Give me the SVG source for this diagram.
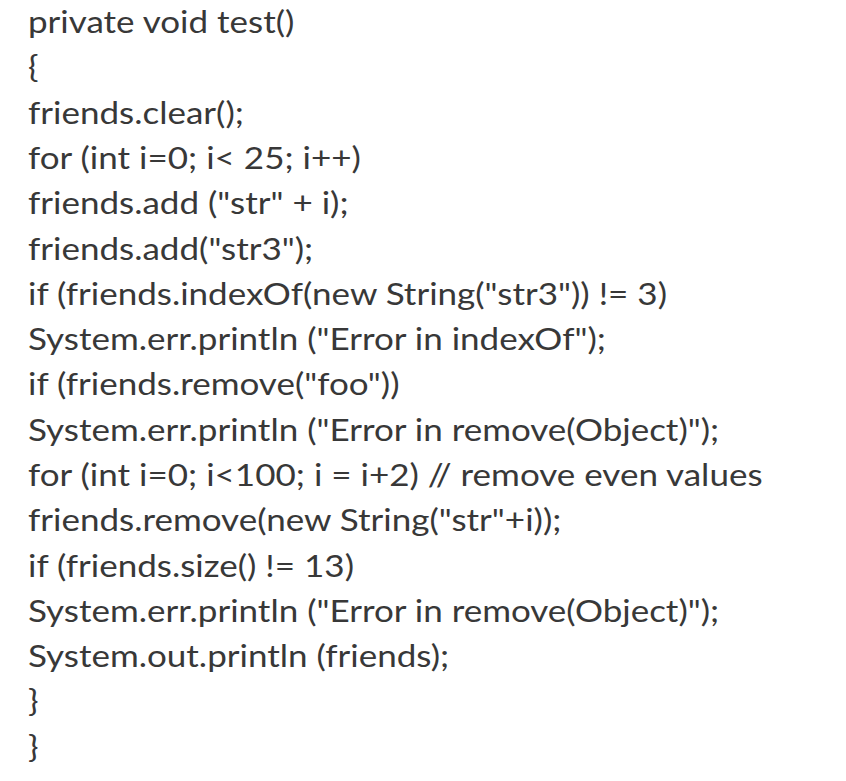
<svg xmlns="http://www.w3.org/2000/svg" width="846" height="781" viewBox="0 0 846 781">
<style>text{font-family:Lato,"Open Sans",sans-serif;font-size:30px;fill:#383838}</style>
<rect width="846" height="781" fill="#fff"/>
<g id="code" transform="scale(1.167 1)">
<text x="24" y="33">private void test()</text>
<text x="24" y="78">{</text>
<text x="24" y="124">friends.clear();</text>
<text x="24" y="169">for (int i=0; i&lt; 25; i++)</text>
<text x="24" y="214">friends.add ("str" + i);</text>
<text x="24" y="260">friends.add("str3");</text>
<text x="24" y="305">if (friends.indexOf(new String("str3")) != 3)</text>
<text x="24" y="350">System.err.println ("Error in indexOf");</text>
<text x="24" y="395">if (friends.remove("foo"))</text>
<text x="24" y="441">System.err.println ("Error in remove(Object)");</text>
<text x="24" y="486">for (int i=0; i&lt;100; i = i+2) // remove even values</text>
<text x="24" y="531">friends.remove(new String("str"+i));</text>
<text x="24" y="577">if (friends.size() != 13)</text>
<text x="24" y="622">System.err.println ("Error in remove(Object)");</text>
<text x="24" y="667">System.out.println (friends);</text>
<text x="24" y="712">}</text>
<text x="24" y="758">}</text>
</g>
</svg>
